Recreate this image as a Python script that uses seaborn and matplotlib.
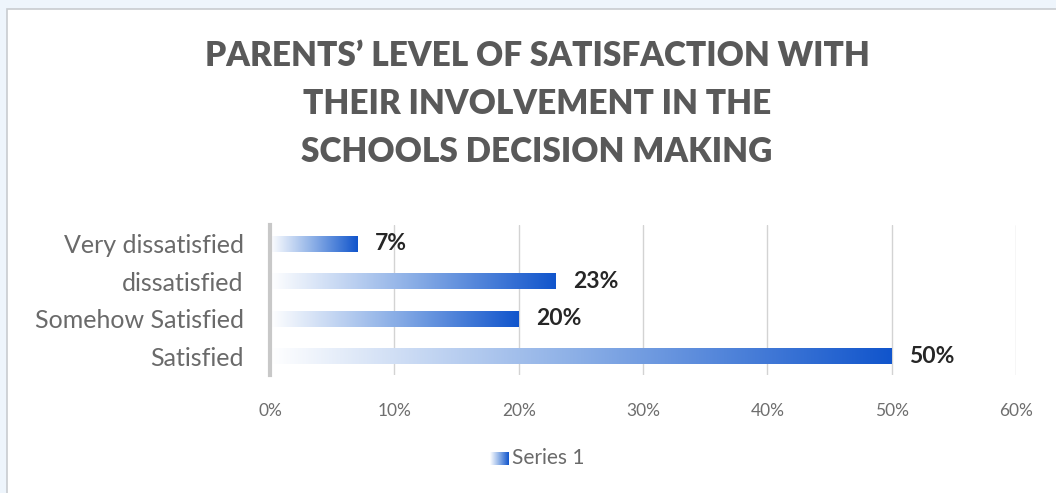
import numpy as np
import pandas as pd
import matplotlib
matplotlib.use("Agg")
import matplotlib.pyplot as plt
import seaborn as sns
from matplotlib.colors import LinearSegmentedColormap
from matplotlib.patches import Rectangle

categories = ["Very dissatisfied", "dissatisfied", "Somehow Satisfied", "Satisfied"]
values = [7, 23, 20, 50]
xticks = [0, 10, 20, 30, 40, 50, 60]
title = "PARENTS\u2019 LEVEL OF SATISFACTION WITH\nTHEIR INVOLVEMENT IN THE\nSCHOOLS DECISION MAKING"
series_name = "Series 1"

sns.set_theme(style="white")
plt.rcParams['font.family'] = ['Lato', 'DejaVu Sans']

fig = plt.figure(figsize=(10.56, 4.93), dpi=100)
fig.patch.set_facecolor("#EEF5FC")

# white chart area with border (background axes)
bg = fig.add_axes([0, 0, 1, 1], zorder=-10)
bg.set_xlim(0, 1056)
bg.set_ylim(493, 0)
bg.axis("off")
bg.add_patch(Rectangle((7, 9), 1100, 600, facecolor="white", edgecolor="#C8CCD0", linewidth=1.2))

ax = fig.add_axes([270/1056, 1 - 375/493, (1016 - 270)/1056, (375 - 225)/493])
ax.set_facecolor("none")
df = pd.DataFrame({"cat": categories, "val": values})
sns.barplot(data=df, x="val", y="cat", orient="h", ax=ax, width=0.42, color="#1155CC")

cmap = LinearSegmentedColormap.from_list("g", ["#FFFFFF", "#8AAEE6", "#1155CC"])
grad = np.linspace(0, 1, 256).reshape(1, -1)
for p in ax.patches:
    x0, y0 = p.get_x(), p.get_y()
    w, h = p.get_width(), p.get_height()
    p.set_visible(False)
    ax.imshow(grad, cmap=cmap, aspect="auto", extent=[x0, x0 + w, y0 + h, y0],
              interpolation="bicubic", zorder=3)
    ax.text(x0 + w + 1.4, y0 + h / 2, f"{w:g}%", va="center", ha="left",
            fontsize=16.5, fontweight="bold", color="#262626", zorder=4)

ax.set_xlim(0, 60)
ax.set_ylim(3.5, -0.5)
ax.set_xticks(xticks)
ax.set_xticklabels([f"{t}%" for t in xticks], fontsize=12.5, color="#6E6E6E")
ax.tick_params(axis="x", length=0, pad=20)
ax.tick_params(axis="y", length=0, pad=19)
for lbl in ax.get_yticklabels():
    lbl.set_fontsize(18)
    lbl.set_color("#6A6A6A")
ax.set_xlabel("")
ax.set_ylabel("")
ax.grid(axis="x", color="#D3D3D3", linewidth=1)
ax.set_axisbelow(True)
for s in ["top", "right", "bottom"]:
    ax.spines[s].set_visible(False)
ax.spines["left"].set_color("#C8C8C8")
ax.spines["left"].set_linewidth(3)
ax.spines["left"].set_zorder(5)

fig.text(537/1056, 1 - 104/493, title, ha="center", va="center", fontsize=24,
         fontweight="heavy", color="#595959", linespacing=1.6)

# legend
lax = fig.add_axes([490/1056, 1 - 465/493, 19/1056, 13/493])
lax.imshow(grad, cmap=cmap, aspect="auto", extent=[0, 1, 0, 1])
lax.axis("off")
fig.text(512/1056, 1 - 458/493, series_name, ha="left", va="center", fontsize=15, color="#6A6A6A")

fig.savefig("out.png", dpi=100, facecolor=fig.get_facecolor())
